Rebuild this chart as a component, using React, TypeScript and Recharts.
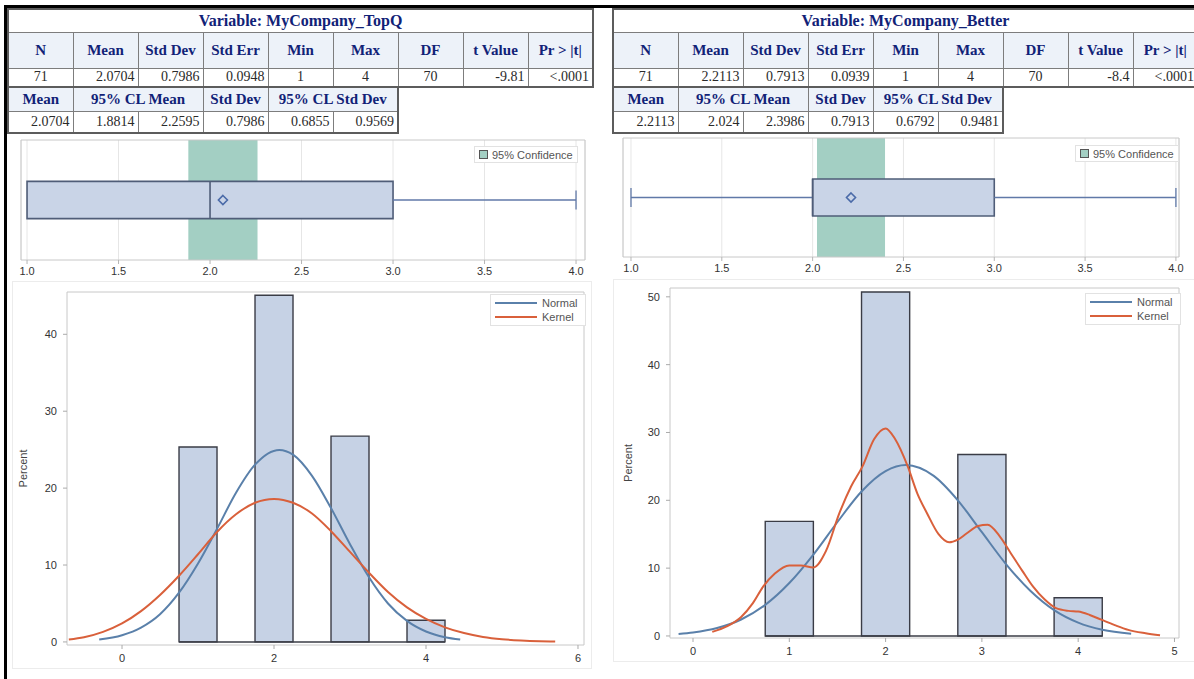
import React from 'react';
import {
  ComposedChart,
  Line,
  XAxis,
  YAxis,
  CartesianGrid,
  ReferenceArea,
  ReferenceLine,
  ReferenceDot,
  Label,
} from 'recharts';

// ---- t-test summary tables ----
const statHeads = ['N', 'Mean', 'Std Dev', 'Std Err', 'Min', 'Max', 'DF', 't Value', 'Pr > |t|'];
const topQStats = ['71', '2.0704', '0.7986', '0.0948', '1', '4', '70', '-9.81', '<.0001'];
const betterStats = ['71', '2.2113', '0.7913', '0.0939', '1', '4', '70', '-8.4', '<.0001'];
const clHeads = ['Mean', '95% CL Mean', 'Std Dev', '95% CL Std Dev'];
const clSpans = [1, 2, 1, 2];
const topQCl = ['2.0704', '1.8814', '2.2595', '0.7986', '0.6855', '0.9569'];
const betterCl = ['2.2113', '2.024', '2.3986', '0.7913', '0.6792', '0.9481'];

// ---- box plot five-number summaries: min, q1, median, q3, max ----
const topQBox = [1, 1, 2, 3, 4];
const betterBox = [1, 2, 2, 3, 4];
const boxTicks = [1, 1.5, 2, 2.5, 3, 3.5, 4];

// ---- histograms (percent per bin) ----
const binMids = [1, 2, 3, 4];
const binWidth = 0.5;
const topQPercent = [25.35, 45.07, 26.76, 2.82];
const betterPercent = [16.9, 50.7, 26.76, 5.63];
const topQXTicks = [0, 2, 4, 6];
const betterXTicks = [0, 1, 2, 3, 4, 5];
const topQYTicks = [0, 10, 20, 30, 40];
const betterYTicks = [0, 10, 20, 30, 40, 50];

// fitted curves, [x, percent]
const topQNormal = [
  [-0.3, 0.3], [0, 0.87], [0.25, 1.86], [0.5, 3.6], [0.75, 6.4], [1, 10.2], [1.25, 14.7],
  [1.5, 19.4], [1.75, 23.05], [2.07, 24.97], [2.25, 24.35], [2.5, 21.6], [2.75, 17.4],
  [3, 12.7], [3.25, 8.4], [3.5, 5.0], [3.75, 2.73], [4, 1.35], [4.25, 0.6], [4.45, 0.3],
];
const topQKernel = [
  [-0.7, 0.3], [-0.5, 0.6], [-0.25, 1.3], [0, 2.4], [0.25, 4.0], [0.5, 6.1], [0.75, 8.6],
  [1, 11.4], [1.25, 14.3], [1.5, 16.6], [1.75, 18.1], [2, 18.6], [2.25, 18.1], [2.5, 16.7],
  [2.75, 14.4], [3, 11.7], [3.25, 9.0], [3.5, 6.5], [3.75, 4.5], [4, 3.0], [4.25, 1.9],
  [4.5, 1.15], [4.75, 0.65], [5, 0.35], [5.25, 0.18], [5.5, 0.08], [5.7, 0.04],
];
const betterNormal = [
  [-0.15, 0.29], [0, 0.51], [0.25, 1.17], [0.5, 2.43], [0.75, 4.58], [1, 7.8], [1.25, 12.0],
  [1.5, 16.8], [1.75, 21.3], [2, 24.3], [2.21, 25.2], [2.5, 23.6], [2.75, 20.0], [3, 15.3],
  [3.25, 10.6], [3.5, 6.7], [3.75, 3.8], [4, 1.96], [4.25, 0.91], [4.55, 0.33],
];
const betterKernel = [
  [0.2, 0.6], [0.35, 1.4], [0.5, 2.8], [0.62, 4.8], [0.73, 7.3], [0.85, 9.2], [1, 10.4],
  [1.12, 10.4], [1.25, 10.1], [1.38, 12.5], [1.52, 18.1], [1.64, 22], [1.76, 25], [1.88, 29],
  [2, 30.6], [2.1, 29], [2.23, 25], [2.33, 21], [2.43, 18.1], [2.55, 15], [2.66, 13.8],
  [2.75, 14.2], [2.84, 15.1], [2.96, 16.2], [3.06, 16.4], [3.18, 14.8], [3.3, 12.2],
  [3.42, 9.6], [3.53, 7.3], [3.65, 5.4], [3.77, 4.1], [3.9, 3.7], [4, 3.6], [4.12, 3.1],
  [4.24, 2.4], [4.38, 1.6], [4.52, 0.9], [4.7, 0.4], [4.85, 0.1],
];
const curveNames = ['Normal', 'Kernel'];
const curveColors = ['#5a80aa', '#d9603b'];

const SANS = '"Liberation Sans", Arial, sans-serif';
const SERIF = '"Liberation Serif", "Times New Roman", serif';
const NAVY = '#112277';
const BOX_LO = 0.345;
const BOX_HI = 0.655;
const CAP_LO = 0.42;
const CAP_HI = 0.58;

type Rect = { x: number; y: number; w: number; h: number };

const toPoints = (pairs: number[][]) => pairs.map(([x, y]) => ({ x, y }));

const tableBase: React.CSSProperties = {
  position: 'absolute',
  borderCollapse: 'collapse',
  tableLayout: 'fixed',
  fontFamily: SERIF,
  border: '2px solid #5c5c5c',
  background: '#fff',
};
const cellBorder = '1px solid #7d7d7d';
const headStyle: React.CSSProperties = {
  border: cellBorder,
  background: '#edf2f9',
  color: NAVY,
  fontWeight: 'bold',
  fontSize: 15,
  textAlign: 'center',
  padding: 0,
  whiteSpace: 'nowrap',
  overflow: 'hidden',
};
const dataStyle: React.CSSProperties = {
  border: cellBorder,
  color: '#2a2a2a',
  fontSize: 14,
  padding: '0 3px',
  whiteSpace: 'nowrap',
  overflow: 'hidden',
};
const centeredCols = [0, 4, 5, 6];

function StatsBlock({ left, title, stats, cl }: { left: number; title: string; stats: string[]; cl: string[] }) {
  const col = 65;
  return (
    <>
      <table style={{ ...tableBase, left, top: 8, width: col * 9 }}>
        <colgroup>
          {statHeads.map((h) => <col key={h} style={{ width: col }} />)}
        </colgroup>
        <tbody>
          <tr style={{ height: 23 }}>
            <td colSpan={9} style={{ ...headStyle, background: '#fff', fontSize: 16 }}>{title}</td>
          </tr>
          <tr style={{ height: 36 }}>
            {statHeads.map((h) => <th key={h} style={headStyle}>{h}</th>)}
          </tr>
          <tr style={{ height: 19 }}>
            {stats.map((v, i) => (
              <td key={i} style={{ ...dataStyle, textAlign: centeredCols.includes(i) ? 'center' : 'right' }}>{v}</td>
            ))}
          </tr>
        </tbody>
      </table>
      <table style={{ ...tableBase, left, top: 86, width: col * 6 }}>
        <colgroup>
          {cl.map((_, i) => <col key={i} style={{ width: col }} />)}
        </colgroup>
        <tbody>
          <tr style={{ height: 24 }}>
            {clHeads.map((h, i) => <th key={h} colSpan={clSpans[i]} style={headStyle}>{h}</th>)}
          </tr>
          <tr style={{ height: 22 }}>
            {cl.map((v, i) => <td key={i} style={{ ...dataStyle, textAlign: 'right' }}>{v}</td>)}
          </tr>
        </tbody>
      </table>
    </>
  );
}

const MeanMarker = (props: any) => {
  const { cx, cy } = props;
  const r = 4.5;
  return (
    <path
      d={`M${cx},${cy - r}L${cx + r},${cy}L${cx},${cy + r}L${cx - r},${cy}Z`}
      fill="none"
      stroke="#4a6aa8"
      strokeWidth={1.6}
    />
  );
};

function BoxPlot({ plot, domain, box, cl }: { plot: Rect; domain: [number, number]; box: number[]; cl: string[] }) {
  const [min, q1, med, q3, max] = box;
  const mean = Number(cl[0]);
  const lo = Number(cl[1]);
  const hi = Number(cl[2]);
  const padL = 14, padR = 14, padT = 2, axisH = 22;
  const whisker = { stroke: '#6079a8', strokeWidth: 1.3 };
  return (
    <div style={{ position: 'absolute', left: plot.x - padL, top: plot.y - padT }}>
      <ComposedChart
        width={plot.w + padL + padR}
        height={plot.h + padT + axisH}
        margin={{ top: padT, right: padR, bottom: 0, left: padL }}
      >
        <CartesianGrid horizontal={false} stroke="#e6e6e6" />
        <XAxis
          type="number"
          dataKey="x"
          domain={domain}
          allowDataOverflow
          ticks={boxTicks}
          interval={0}
          tickFormatter={(v: number) => v.toFixed(1)}
          height={axisH}
          axisLine={false}
          tickLine={{ stroke: '#b5b5b5' }}
          tickSize={4}
          tickMargin={3}
          tick={{ fontSize: 11, fill: '#333', fontFamily: SANS }}
        />
        <YAxis type="number" domain={[0, 1]} allowDataOverflow hide />
        <ReferenceArea x1={lo} x2={hi} y1={0} y2={1} fill="#a3cfc3" fillOpacity={1} stroke="none" />
        {min < q1 && <ReferenceLine segment={[{ x: min, y: 0.5 }, { x: q1, y: 0.5 }]} {...whisker} />}
        {min < q1 && <ReferenceLine segment={[{ x: min, y: CAP_LO }, { x: min, y: CAP_HI }]} {...whisker} />}
        {max > q3 && <ReferenceLine segment={[{ x: q3, y: 0.5 }, { x: max, y: 0.5 }]} {...whisker} />}
        {max > q3 && <ReferenceLine segment={[{ x: max, y: CAP_LO }, { x: max, y: CAP_HI }]} {...whisker} />}
        <ReferenceArea
          x1={q1}
          x2={q3}
          y1={BOX_LO}
          y2={BOX_HI}
          fill="#c9d4e7"
          fillOpacity={1}
          stroke="#4f5d78"
          strokeWidth={1.6}
        />
        <ReferenceLine segment={[{ x: med, y: BOX_LO }, { x: med, y: BOX_HI }]} stroke="#4f5d78" strokeWidth={1.6} />
        <ReferenceDot x={mean} y={0.5} r={4} shape={MeanMarker} />
        <ReferenceArea x1={domain[0]} x2={domain[1]} y1={0} y2={1} fill="none" stroke="#c8c8c8" />
      </ComposedChart>
    </div>
  );
}

function ConfidenceLegend({ left, top }: { left: number; top: number }) {
  return (
    <div
      style={{
        position: 'absolute', left, top, height: 15, padding: '0 4px',
        border: '1px solid #e2e2e2', background: '#fff', display: 'flex', alignItems: 'center',
        fontFamily: SANS, fontSize: 11, color: '#555', whiteSpace: 'nowrap',
      }}
    >
      <span style={{ width: 7, height: 7, border: '1px solid #555', background: '#a3cfc3', marginRight: 4 }} />
      95% Confidence
    </div>
  );
}

function CurveLegend({ left, top }: { left: number; top: number }) {
  return (
    <div
      style={{
        position: 'absolute', left, top, width: 94, padding: '1px 0',
        border: '1px solid #e2e2e2', background: '#fff',
        fontFamily: SANS, fontSize: 11, color: '#555',
      }}
    >
      {curveNames.map((n, i) => (
        <div key={n} style={{ display: 'flex', alignItems: 'center', height: 14 }}>
          <span style={{ width: 42, borderTop: `2px solid ${curveColors[i]}`, marginLeft: 4, marginRight: 5 }} />
          <span>{n}</span>
        </div>
      ))}
    </div>
  );
}

function Histogram({
  plot, padL, labelX, xDomain, yDomain, xTicks, yTicks, percent, normal, kernel,
}: {
  plot: Rect; padL: number; labelX: number; xDomain: [number, number]; yDomain: [number, number];
  xTicks: number[]; yTicks: number[]; percent: number[]; normal: number[][]; kernel: number[][];
}) {
  const padT = 4, padR = 8, axisH = 26, yAxisW = 40;
  const left = plot.x - padL;
  const lx = labelX - left;
  const ly = padT + plot.h / 2;
  const barLine = '#3a3c46';
  const tickStyle = { fontSize: 11, fill: '#333', fontFamily: SANS };
  return (
    <div style={{ position: 'absolute', left, top: plot.y - padT }}>
      <ComposedChart
        width={plot.w + padL + padR}
        height={plot.h + padT + axisH}
        margin={{ top: padT, right: padR, bottom: 0, left: padL - yAxisW }}
      >
        <XAxis
          type="number"
          dataKey="x"
          domain={xDomain}
          allowDataOverflow
          ticks={xTicks}
          interval={0}
          height={axisH}
          axisLine={false}
          tickLine={{ stroke: '#aaa' }}
          tickSize={4}
          tickMargin={5}
          tick={tickStyle}
        />
        <YAxis
          type="number"
          domain={yDomain}
          allowDataOverflow
          ticks={yTicks}
          interval={0}
          width={yAxisW}
          axisLine={false}
          tickLine={{ stroke: '#aaa' }}
          tickSize={4}
          tickMargin={6}
          tick={tickStyle}
        >
          <Label
            content={() => (
              <text
                x={lx}
                y={ly}
                transform={`rotate(-90 ${lx} ${ly})`}
                textAnchor="middle"
                dominantBaseline="central"
                fontSize={11}
                fill="#444"
                fontFamily={SANS}
              >
                Percent
              </text>
            )}
          />
        </YAxis>
        {binMids.map((m, i) => (
          <ReferenceArea
            key={m}
            x1={m - binWidth / 2}
            x2={m + binWidth / 2}
            y1={0}
            y2={percent[i]}
            fill="#c6d2e5"
            fillOpacity={1}
            stroke={barLine}
            strokeWidth={1.4}
          />
        ))}
        <ReferenceLine
          segment={[
            { x: binMids[0] - binWidth / 2, y: 0 },
            { x: binMids[binMids.length - 1] + binWidth / 2, y: 0 },
          ]}
          stroke={barLine}
          strokeWidth={1.5}
        />
        <ReferenceArea x1={xDomain[0]} x2={xDomain[1]} y1={yDomain[0]} y2={yDomain[1]} fill="none" stroke="#c8c8c8" />
        <Line
          data={toPoints(normal)}
          dataKey="y"
          type="monotone"
          stroke={curveColors[0]}
          strokeWidth={2}
          dot={false}
          isAnimationActive={false}
        />
        <Line
          data={toPoints(kernel)}
          dataKey="y"
          type="monotone"
          stroke={curveColors[1]}
          strokeWidth={2}
          dot={false}
          isAnimationActive={false}
        />
      </ComposedChart>
    </div>
  );
}

export default function App() {
  return (
    <div
      style={{
        position: 'absolute', left: 0, top: 0, width: 1194, height: 679,
        overflow: 'hidden', background: '#fff',
      }}
    >
      {/* outer frame */}
      <div style={{ position: 'absolute', left: 4, top: 5, width: 1190, height: 3, background: '#000' }} />
      <div style={{ position: 'absolute', left: 4, top: 5, width: 3, height: 674, background: '#000' }} />

      {/* faint graph borders */}
      <div style={{ position: 'absolute', left: 12, top: 281, width: 578, height: 386, border: '1px solid #ececec' }} />
      <div style={{ position: 'absolute', left: 613, top: 279, width: 590, height: 381, border: '1px solid #ececec' }} />

      <StatsBlock left={7} title="Variable:  MyCompany_TopQ" stats={topQStats} cl={topQCl} />
      <StatsBlock left={612} title="Variable:  MyCompany_Better" stats={betterStats} cl={betterCl} />

      <BoxPlot plot={{ x: 21, y: 140, w: 564, h: 120 }} domain={[0.967, 4.049]} box={topQBox} cl={topQCl} />
      <BoxPlot plot={{ x: 623, y: 138, w: 556, h: 119 }} domain={[0.956, 4.017]} box={betterBox} cl={betterCl} />
      <ConfidenceLegend left={474} top={146} />
      <ConfidenceLegend left={1075} top={145} />

      <Histogram
        plot={{ x: 67, y: 292, w: 517, h: 353 }}
        padL={59}
        labelX={23}
        xDomain={[-0.724, 6.079]}
        yDomain={[-0.4, 45.5]}
        xTicks={topQXTicks}
        yTicks={topQYTicks}
        percent={topQPercent}
        normal={topQNormal}
        kernel={topQKernel}
      />
      <Histogram
        plot={{ x: 670, y: 288, w: 509, h: 350 }}
        padL={58}
        labelX={628}
        xDomain={[-0.239, 5.047]}
        yDomain={[-0.3, 51.3]}
        xTicks={betterXTicks}
        yTicks={betterYTicks}
        percent={betterPercent}
        normal={betterNormal}
        kernel={betterKernel}
      />
      <CurveLegend left={490} top={294} />
      <CurveLegend left={1085} top={293} />
    </div>
  );
}
